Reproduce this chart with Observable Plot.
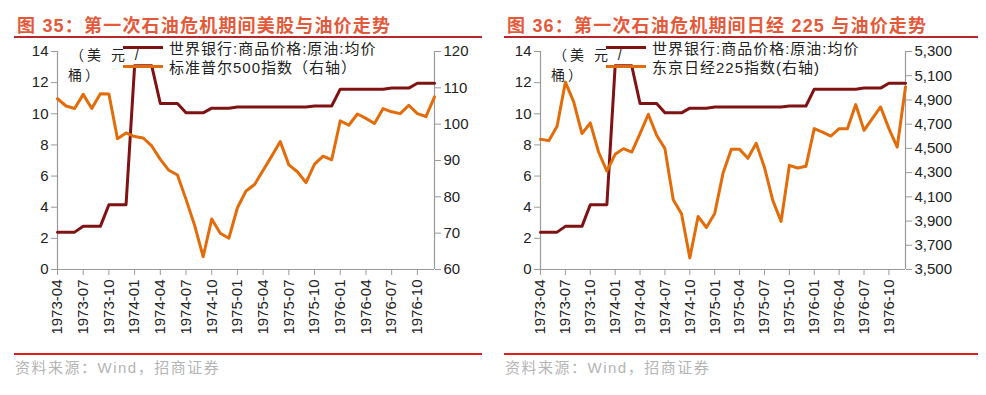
<!DOCTYPE html>
<html><head><meta charset="utf-8">
<script src="https://cdn.jsdelivr.net/npm/d3@7"></script>
<script src="https://cdn.jsdelivr.net/npm/@observablehq/plot@0.6"></script>
<style>
body{margin:0;background:#fff;width:986px;height:395px;position:relative;overflow:hidden;font-family:"Liberation Sans","Noto Sans CJK SC",sans-serif;}
.abs{position:absolute;white-space:nowrap;}
.title{font-weight:bold;font-size:18px;line-height:18px;color:#e4593a;letter-spacing:1.2px;}
.hr-top{height:2px;background:#b8282a;}
.hr-bot{height:2px;background:#e0201f;}
.src{font-size:15px;line-height:15px;color:#b4b4b4;letter-spacing:1.5px;}
.leg{font-size:15px;line-height:15px;color:#222;letter-spacing:1px;}
.sw{height:3px;width:40px;}
.unit{font-size:14px;line-height:14px;color:#222;letter-spacing:3px;}
.chart{position:absolute;top:40px;}
</style>
</head><body>
<script>
const months = ["1973-04","1973-05","1973-06","1973-07","1973-08","1973-09","1973-10","1973-11","1973-12",
"1974-01","1974-02","1974-03","1974-04","1974-05","1974-06","1974-07","1974-08","1974-09","1974-10","1974-11","1974-12",
"1975-01","1975-02","1975-03","1975-04","1975-05","1975-06","1975-07","1975-08","1975-09","1975-10","1975-11","1975-12",
"1976-01","1976-02","1976-03","1976-04","1976-05","1976-06","1976-07","1976-08","1976-09","1976-10","1976-11","1976-12"];
const quarterTicks = ["1973-04","1973-07","1973-10","1974-01","1974-04","1974-07","1974-10","1975-01","1975-04","1975-07","1975-10","1976-01","1976-04","1976-07","1976-10"];
// 世界银行:商品价格:原油:均价 (美元/桶)
const oil = [2.40,2.40,2.40,2.77,2.77,2.77,4.16,4.16,4.16,
13.08,13.08,13.08,10.66,10.66,10.66,10.06,10.06,10.06,10.36,10.36,10.36,
10.44,10.44,10.44,10.44,10.44,10.44,10.44,10.44,10.44,10.50,10.50,10.50,
11.58,11.58,11.58,11.58,11.58,11.58,11.65,11.65,11.65,11.96,11.96,11.96];
// 标准普尔500指数
const sp500 = [107.0,105.0,104.3,108.2,104.3,108.4,108.3,96.0,97.6,
96.6,96.2,94.0,90.3,87.3,86.0,79.3,72.2,63.5,73.9,70.0,68.6,
77.0,81.6,83.4,87.3,91.2,95.2,88.8,86.9,83.9,89.0,91.2,90.2,
100.9,99.7,102.8,101.6,100.2,104.3,103.4,102.9,105.2,102.9,102.1,107.5];
// 东京日经225指数
const nikkei = [4575,4564,4683,5047,4884,4622,4710,4470,4313,
4451,4498,4470,4622,4782,4608,4498,4076,3960,3596,3938,3847,
3963,4294,4492,4492,4418,4542,4343,4071,3897,4360,4338,4352,
4663,4635,4602,4663,4663,4862,4649,4746,4842,4663,4511,5007];
const leftTicks = [0,2,4,6,8,10,12,14];
const spTicks = [60,70,80,90,100,110,120];
const nkTicks = [3500,3700,3900,4100,4300,4500,4700,4900,5100,5300];

const DARK = "#7f1212", ORANGE = "#e36c0a";

function makeChart({right, rDomain, rTicks, rFmt, width, marginLeft, marginRight}) {
  const [r0, r1] = rDomain;
  const toLeft = v => (v - r0) / (r1 - r0) * 14;
  const data = months.map((m, i) => ({m, oil: oil[i], r: right[i]}));
  return Plot.plot({
    width, height: 300, marginTop: 11, marginBottom: 71, marginLeft, marginRight,
    style: {fontFamily: "Liberation Sans, Arial, sans-serif", fontSize: "15px", color: "#222", background: "transparent", overflow: "visible"},
    x: {type: "point", domain: months, padding: 0, round: false, label: null},
    y: {domain: [0, 14], label: null},
    marks: [
      Plot.ruleX([months[0], months[months.length - 1]], {stroke: "#9a9a9a", strokeWidth: 1.2}),
      Plot.ruleY([0], {stroke: "#9a9a9a", strokeWidth: 1.2}),
      Plot.axisY(leftTicks, {anchor: "left", tickSize: 6, tickPadding: 3, stroke: "#9a9a9a", fill: "#222", label: null}),
      Plot.axisY(rTicks, {anchor: "right", y: toLeft, tickFormat: rFmt, tickSize: 6, tickPadding: 3, stroke: "#9a9a9a", fill: "#222", label: null}),
      Plot.axisX(quarterTicks, {anchor: "bottom", tickRotate: -90, tickSize: 6, tickPadding: 4, stroke: "#9a9a9a", fill: "#222", label: null}),
      Plot.line(data, {x: "m", y: "oil", stroke: DARK, strokeWidth: 3}),
      Plot.line(data, {x: "m", y: d => toLeft(d.r), stroke: ORANGE, strokeWidth: 3})
    ]
  });
}

function add(html, style, cls) {
  const d = document.createElement("div");
  d.className = "abs " + (cls || "");
  Object.assign(d.style, style);
  d.innerHTML = html;
  document.body.appendChild(d);
  return d;
}

function panel(ox, w, titleText, rightName, chartOpts) {
  add(titleText, {left: (ox + 17) + "px", top: "17px"}, "title");
  add("", {left: (ox + 14) + "px", top: "36px", width: (w - 22) + "px"}, "hr-top");
  const c = makeChart(chartOpts);
  c.classList.add("chart");
  c.style.left = ox + "px";
  document.body.appendChild(c);
  const ax = ox + chartOpts.marginLeft;
  add("（美 元 /", {left: (ax + 13) + "px", top: "48px"}, "unit");
  add("桶）", {left: (ax + 11) + "px", top: "68px"}, "unit");
  add("", {left: (ax + 66) + "px", top: "46px", background: DARK}, "sw");
  add("", {left: (ax + 66) + "px", top: "65px", background: ORANGE}, "sw");
  add("世界银行:商品价格:原油:均价", {left: (ax + 112) + "px", top: "41px"}, "leg");
  add(rightName, {left: (ax + 112) + "px", top: "60px"}, "leg");
  add("", {left: (ox + 14) + "px", top: "353px", width: (w - 22) + "px"}, "hr-bot");
  add("资料来源：Wind，招商证券", {left: (ox + 15) + "px", top: "360px"}, "src");
}

panel(0, 490, "图 35：第一次石油危机期间美股与油价走势", "标准普尔500指数（右轴）",
  {right: sp500, rDomain: [60, 120], rTicks: spTicks, rFmt: d => String(d), width: 490, marginLeft: 57, marginRight: 56});
panel(490, 496, "图 36：第一次石油危机期间日经 225 与油价走势", "东京日经225指数(右轴)",
  {right: nikkei, rDomain: [3500, 5300], rTicks: nkTicks, rFmt: d => d3.format(",")(d), width: 496, marginLeft: 50, marginRight: 81});
</script>
</body></html>
